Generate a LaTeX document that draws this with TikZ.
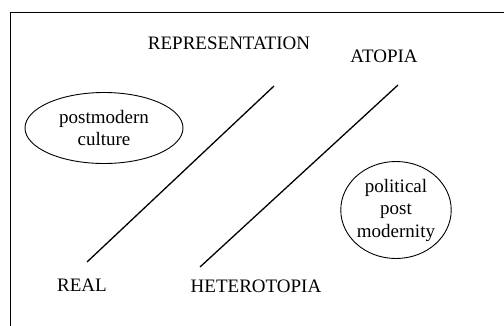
\documentclass[tikz,border=0pt]{standalone}
\usepackage{fontspec}
\setmainfont{Liberation Serif}
\usetikzlibrary{shapes.geometric}
\begin{document}
\begin{tikzpicture}[x=1pt,y=-1pt,
  lbl/.style={inner sep=0pt,font=\fontsize{19}{22}\selectfont},
  bubble/.style={draw,line width=0.9pt,ellipse,inner sep=0pt,align=center,font=\fontsize{19}{22.5}\selectfont},
  slash/.style={line width=1.3pt}]
\useasboundingbox (0,0) rectangle (504,325);
\draw[line width=0.9pt] (10,330) -- (10,12) -- (510,12);
\node[lbl] (rep) at (229,43) {REPRESENTATION};
\node[lbl] (ato) at (384,56) {ATOPIA};
\node[lbl] (real) at (82,285) {REAL};
\node[lbl] (het) at (256,286) {HETEROTOPIA};
\node[bubble,minimum width=158pt,minimum height=71pt] (pmc) at (104,128) {postmodern\\culture};
\node[bubble,minimum width=108pt,minimum height=97pt] (ppm) at (396,210) {political\\post\\modernity};
\coordinate (a1) at (87,262);
\coordinate (b1) at (274,86);
\coordinate (a2) at (200,267);
\coordinate (b2) at (398,85);
\draw[slash] (a1) -- (b1);
\draw[slash] (a2) -- (b2);
\end{tikzpicture}
\end{document}
